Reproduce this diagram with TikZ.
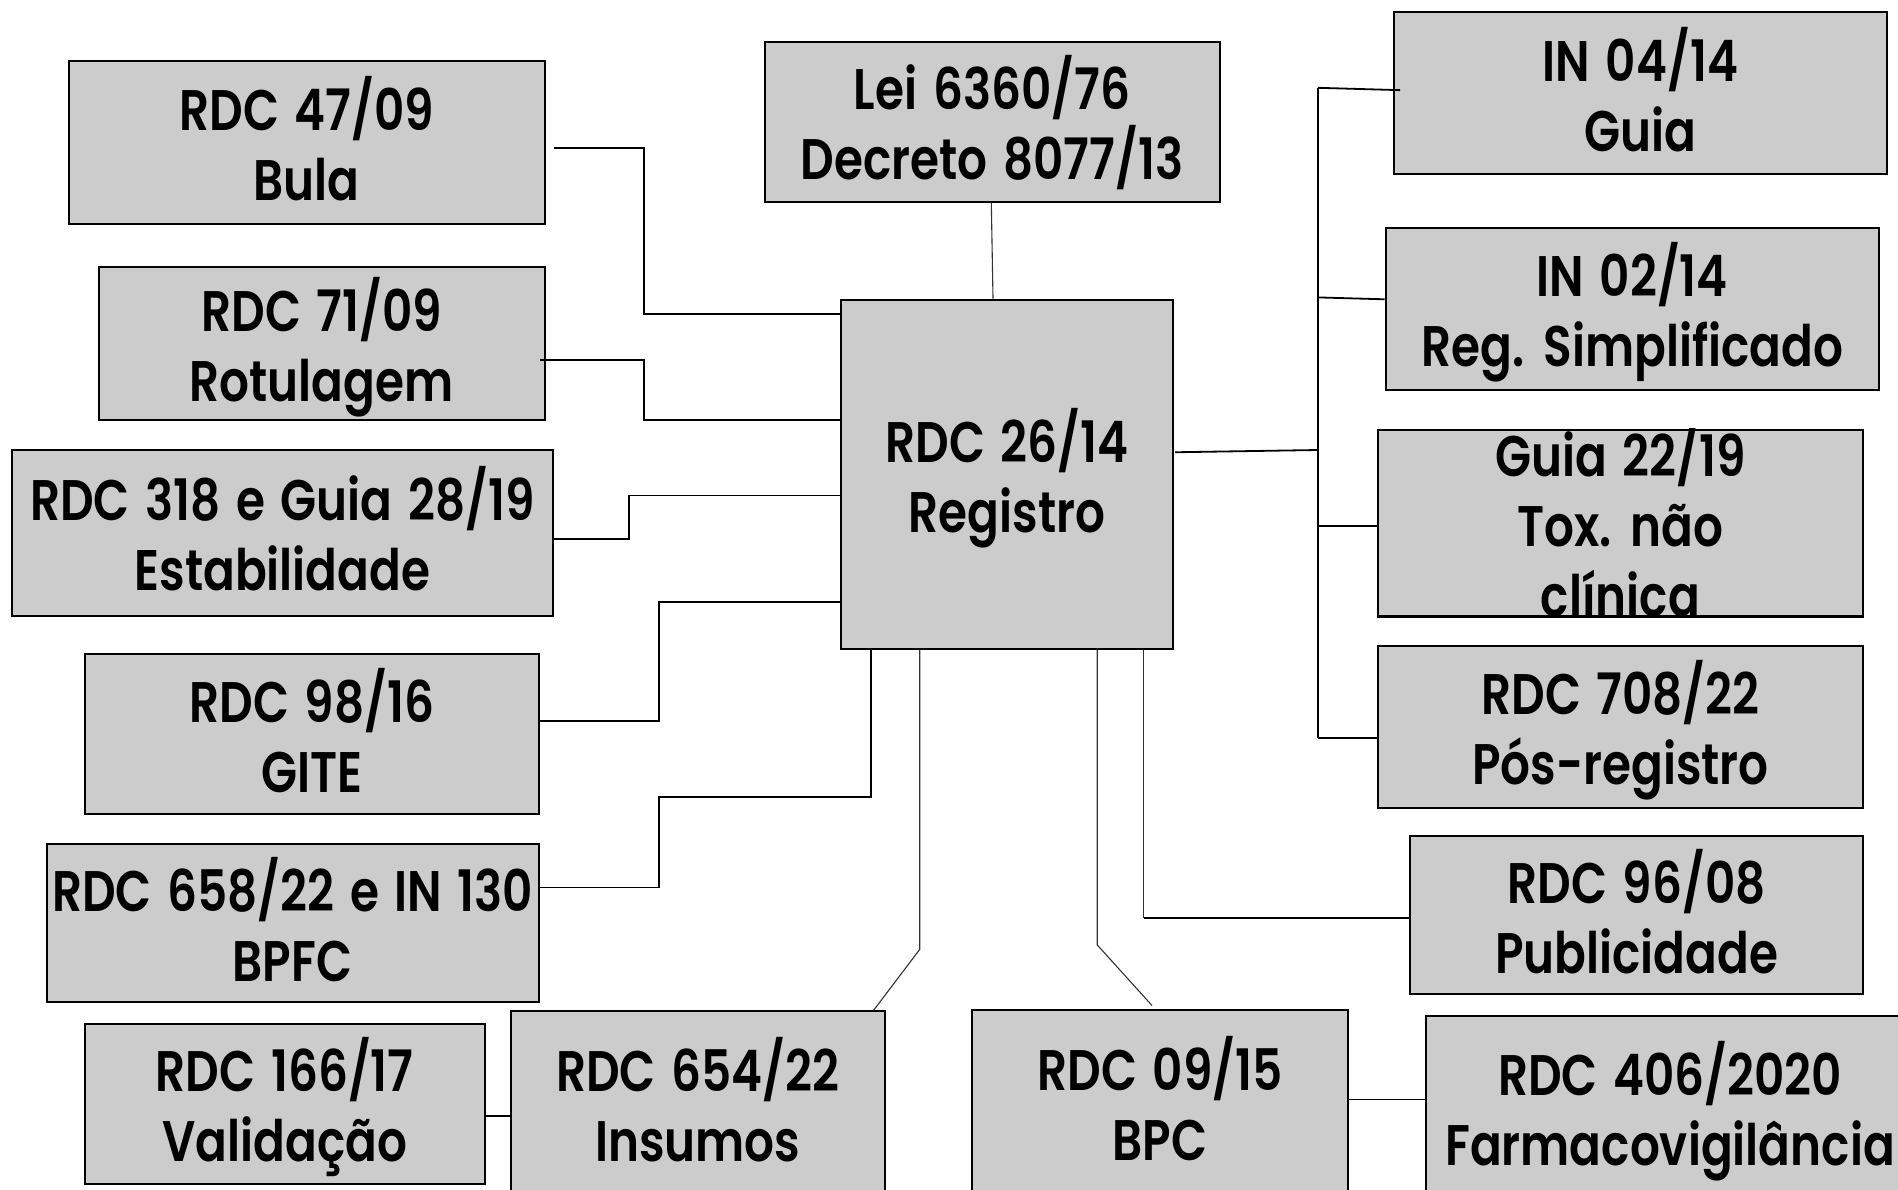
\documentclass[tikz,border=0pt]{standalone}
\usepackage{fontspec}
\setmainfont{Poppins SemiBold}[FakeStretch=0.82,WordSpace=1.4]
\usetikzlibrary{fit,calc}
\definecolor{boxgray}{RGB}{204,204,204}
\newcommand\ks{\rule[-7.5pt]{0pt}{35pt}}
\begin{document}
\begin{tikzpicture}[x=0.5pt,y=-0.5pt,
  box/.style={draw=black,fill=boxgray,line width=1pt,inner sep=0pt,rectangle},
  txt/.style={align=center,inner sep=0pt,font=\fontsize{28.6pt}{35pt}\selectfont},
  conn/.style={draw=black,line width=0.9pt},
  thinc/.style={draw=black!80,line width=0.55pt}]
\useasboundingbox (0,0) rectangle (1898,1189);
\clip (0,0) rectangle (1898,1189);
\fill[white] (0,0) rectangle (1898,1189);

% boxes
\node[box, fit={(68.5,61.3) (544.7,224.2)}] (bula) {};
\node[box, fit={(764.6,41.5) (1219.6,201.7)}] (lei) {};
\node[box, fit={(98.8,267.3) (544.7,420)}] (rot) {};
\node[box, fit={(12.1,449.6) (552.6,615.7)}] (est) {};
\node[box, fit={(84.8,653.7) (538.6,814.1)}] (gite) {};
\node[box, fit={(46.7,843.8) (538.6,1002)}] (bpfc) {};
\node[box, fit={(84.8,1023.7) (484.7,1184)}] (val) {};
\node[box, fit={(510.8,1011.3) (884.6,1200)}] (ins) {};
\node[box, fit={(841,299.7) (1173,648.8)}] (center) {};
\node[box, fit={(972.4,1009.5) (1347.5,1200)}] (bpc) {};
\node[box, fit={(1425.6,1015.8) (1910,1200)}] (farm) {};
\node[box, fit={(1393.5,11.9) (1887.3,174)}] (in04) {};
\node[box, fit={(1385.6,228) (1878.8,390.3)}] (in02) {};
\node[box, fit={(1377.7,429.8) (1863,615.7)}] (guia) {};
\node[box, fit={(1377.7,645.8) (1863,807.7)}] (pos) {};
\node[box, fit={(1409.9,835.9) (1863,993.7)}] (pub) {};

% texts
\node[txt] (bula-t) at (306.6,145.5) {\ks RDC 47/09\\\ks Bula};
\node[txt] (lei-t) at (992,124.5) {\ks Lei 6360/76\\\ks Decreto 8077/13};
\node[txt] (rot-t) at (321.7,346.5) {\ks RDC 71/09\\\ks Rotulagem};
\node[txt] (est-t) at (282.4,535.5) {\ks RDC 318 e Guia 28/19\\\ks Estabilidade};
\node[txt] (gite-t) at (311.7,737) {\ks RDC 98/16\\\ks GITE};
\node[txt] (bpfc-t) at (292.6,926) {\ks RDC 658/22 e IN 130\\\ks BPFC};
\node[txt] (val-t) at (284.7,1107) {\ks RDC 166/17\\\ks Validação};
\node[txt] (ins-t) at (697.7,1106) {\ks RDC 654/22\\\ks Insumos};
\node[txt] (center-t) at (1007,477.5) {\ks RDC 26/14\\\ks Registro};
\node[txt] (bpc-t) at (1160,1105) {\ks RDC 09/15\\\ks BPC};
\node[txt] (farm-t) at (1670,1110.5) {\ks RDC 406/2020\\\ks Farmacovigilância};
\node[txt] (pub-t) at (1636.5,918) {\ks RDC 96/08\\\ks Publicidade};
\node[txt] (pos-t) at (1620.4,730) {\ks RDC 708/22\\\ks Pós-registro};
\node[txt] (in02-t) at (1632.2,312) {\ks IN 02/14\\\ks Reg. Simplificado};
\node[txt] (in04-t) at (1640.4,96) {\ks IN 04/14\\\ks Guia};
\begin{scope}
  \clip (guia.south west) rectangle (guia.north east);
  \node[txt] (guia-t) at (1620.4,526) {\ks Guia 22/19\\\ks Tox. não\\\ks clínica};
\end{scope}
\draw[line width=1pt] (guia.south west) -- (guia.south east);

% connectors left
\coordinate (k1) at (644,313.6);
\draw[conn] ($(bula.east)+(8,5)$) -| (k1) -- (center.west |- k1);
\coordinate (k2) at (644,420);
\draw[conn] ($(rot.east)+(-6,16)$) -| (k2) -- (center.west |- k2);
\coordinate (k3) at (629,495.5);
\draw[conn] ($(est.east)+(0,6.4)$) -| (k3) -- (center.west |- k3);
\coordinate (k4) at (658.6,602);
\draw[conn] ($(gite.east)+(0,-12.6)$) -| (k4) -- (center.west |- k4);
\coordinate (k5) at (658.6,797.2);
\coordinate (k5b) at (870.6,797.2);
\draw[conn] ($(bpfc.east)+(0,-35.5)$) -| (k5) -- (k5b) -- (k5b |- center.south);

% connectors bottom
\coordinate (k6) at (919.7,949.4);
\draw[thinc] (k6 |- center.south) -- (k6) -- ($(ins.north east)+(-12,0)$);
\coordinate (k7) at ($(val.east)+(0,12)$);
\draw[conn] (k7) -- (ins.west |- k7);
\coordinate (k8) at (1097.2,944.9);
\draw[thinc] (k8 |- center.south) -- (k8) -- ($(bpc.north west)+(180.6,-3)$);
\coordinate (k9) at (1143.9,917.8);
\draw[thinc] (k9 |- center.south) -- (k9);
\draw[conn] (k9) -- (pub.west |- k9);
\coordinate (k10) at ($(bpc.east)+(0,-5.2)$);
\draw[conn] (k10) -- (farm.west |- k10);

% top
\draw[thinc] ($(lei.south)+(-0.8,0)$) -- ($(center.north)+(-14,0)$);

% right bus
\coordinate (bt) at (1317.8,87.8);
\coordinate (bb) at (1317.8,737.9);
\coordinate (k12) at (1317.8,450);
\draw[conn] ($(center.east)+(1,-22)$) -- (k12);
\draw[conn] (bt) -- (bb);
\draw[conn] (bt) -- ($(in04.west)+(7.5,-2.8)$);
\coordinate (k15) at (1317.8,297.4);
\draw[conn] (k15) -- ($(in02.west)+(0,-9.85)$);
\coordinate (k16) at ($(guia.west)+(0,3)$);
\draw[conn] (bt |- k16) -- (k16);
\draw[conn] (bb) -- (pos.west |- bb);
\end{tikzpicture}
\end{document}
